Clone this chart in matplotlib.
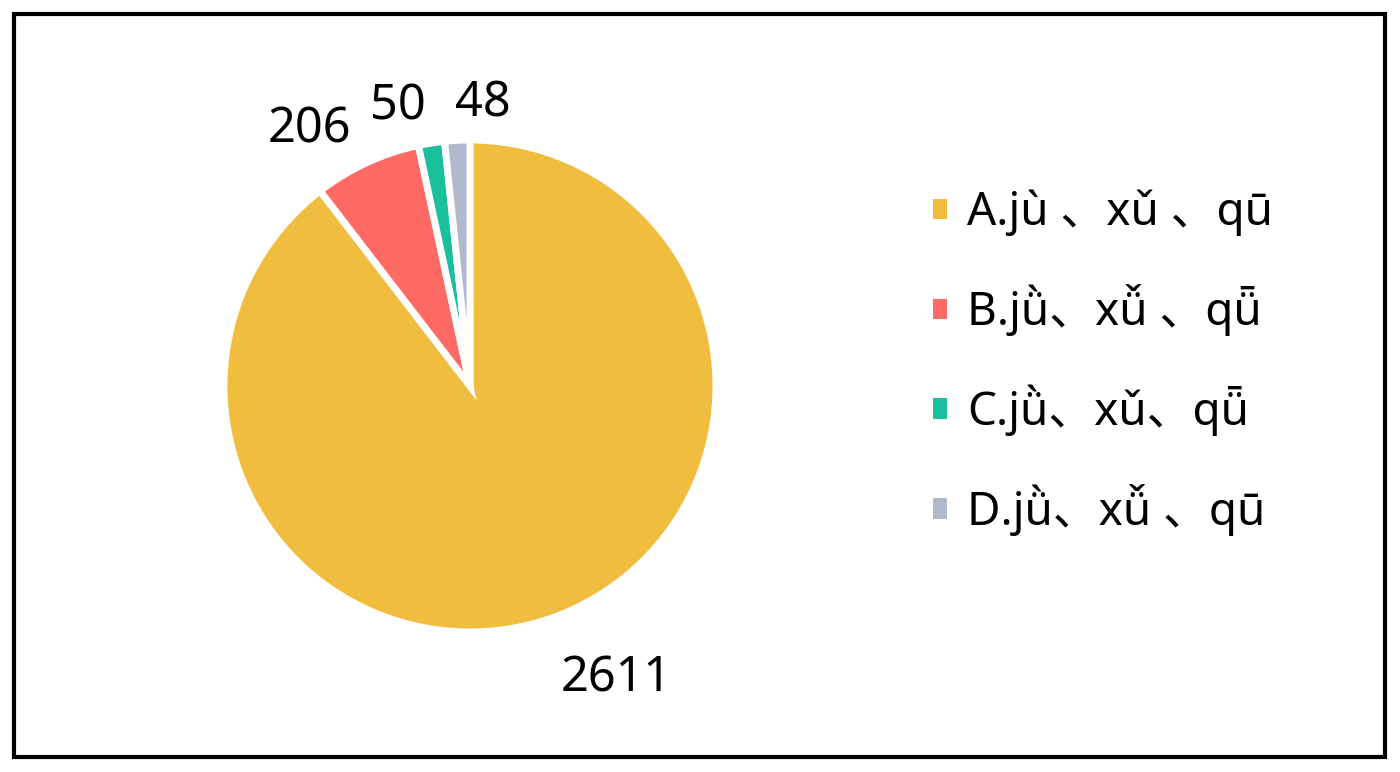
import matplotlib
matplotlib.use("Agg")
import numpy as np
import matplotlib.pyplot as plt
from matplotlib.patches import Patch, Rectangle

categories = ["A.jù 、xǔ 、qū", "B.jǜ、xǚ 、qǖ", "C.jǜ、xǔ、qǖ", "D.jǜ、xǚ 、qū"]
values = [2611, 206, 50, 48]
colors = ["#F0BD3F", "#FF6A64", "#1ABF9C", "#B1B9CC"]

FONTS = ["Noto Sans", "Noto Sans CJK SC", "DejaVu Sans"]
plt.rcParams["font.family"] = FONTS

W, H = 1400, 772
fig = plt.figure(figsize=(W / 100, H / 100), dpi=100)

cx, cy, R = 470, 386, 246
half = 300
ax = fig.add_axes([(cx - half) / W, (H - cy - half) / H, 2 * half / W, 2 * half / H])

wedges, _ = ax.pie(values, colors=colors, startangle=90, counterclock=False,
                   wedgeprops=dict(edgecolor="white", linewidth=5))
lim = half / R
ax.set_xlim(-lim, lim)
ax.set_ylim(-lim, lim)
ax.set_aspect("equal")
ax.axis("off")

# data labels placed outside each wedge at its mid-angle
for w, v in zip(wedges, values):
    ang = np.deg2rad((w.theta1 + w.theta2) / 2)
    d = 1.15
    x, y = d * np.cos(ang), d * np.sin(ang)
    ha = "left" if x > -0.1 else "right"
    va = "top" if y < -0.5 else "center"
    ax.text(x, y, str(v), ha=ha, va=va, fontsize=35, color="black")

handles = [Patch(facecolor=c, edgecolor="none") for c in colors]
fig.legend(handles, categories, loc="center left", bbox_to_anchor=(933 / W, 1 - 363 / H),
           frameon=False, fontsize=33, handlelength=0.31, handleheight=0.31,
           handletextpad=0.44, labelspacing=1.05, borderpad=0, borderaxespad=0)

fig.patches.append(Rectangle((14 / W, 15 / H), 1371 / W, 743 / H, transform=fig.transFigure,
                             fill=False, edgecolor="black", linewidth=3))

fig.savefig("out.png", dpi=100, facecolor="white")
